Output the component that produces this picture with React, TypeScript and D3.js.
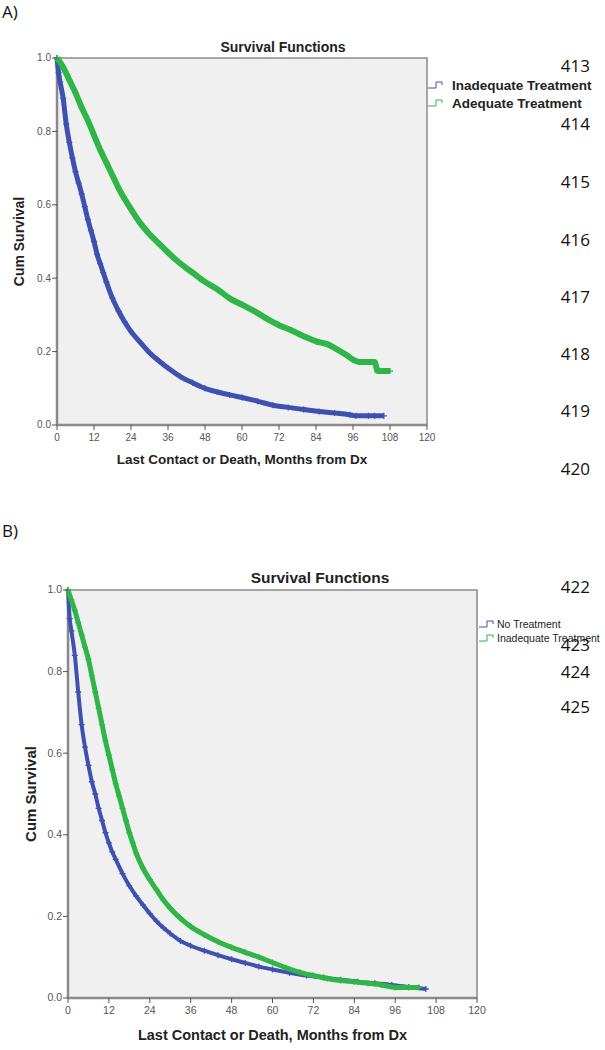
import React from "react";
import * as d3 from "d3";

// ---------- DATA ----------
const X_TICKS = [0, 12, 24, 36, 48, 60, 72, 84, 96, 108, 120];
const Y_TICKS = [0, 0.2, 0.4, 0.6, 0.8, 1.0];

// Panel A
const A_INADEQ_T = [0, 0.5, 1, 2, 3, 4, 5, 6, 7, 8, 9, 10, 11, 12, 13, 14, 15, 16, 18, 20, 22, 24, 27, 30, 33, 36, 40, 44, 48, 52, 56, 60, 65, 70, 75, 80, 85, 90, 95, 97, 101, 103, 106];
const A_INADEQ_S = [1.0, 0.96, 0.935, 0.89, 0.82, 0.77, 0.728, 0.69, 0.66, 0.63, 0.595, 0.56, 0.53, 0.5, 0.465, 0.44, 0.415, 0.39, 0.345, 0.31, 0.28, 0.255, 0.225, 0.197, 0.175, 0.155, 0.132, 0.115, 0.1, 0.09, 0.082, 0.075, 0.065, 0.054, 0.048, 0.042, 0.037, 0.033, 0.028, 0.025, 0.025, 0.025, 0.025];
const A_ADEQ_T = [0, 2, 4, 6, 8, 10, 12, 14, 16, 18, 20, 22, 24, 27, 30, 33, 36, 40, 44, 48, 52, 56, 60, 64, 68, 72, 76, 80, 84, 88, 91, 94, 96, 98, 101, 103, 104, 106, 108];
const A_ADEQ_S = [1.0, 0.975, 0.94, 0.905, 0.865, 0.83, 0.79, 0.75, 0.715, 0.68, 0.645, 0.615, 0.588, 0.55, 0.52, 0.495, 0.47, 0.44, 0.415, 0.39, 0.37, 0.345, 0.328, 0.31, 0.29, 0.272, 0.258, 0.242, 0.228, 0.219, 0.205, 0.19, 0.178, 0.172, 0.172, 0.172, 0.147, 0.147, 0.147];

// Panel B
const B_NONE_T = [0, 0.5, 1, 2, 3, 4, 5, 6, 7, 8, 9, 10, 11, 12, 13, 14, 16, 18, 20, 22, 24, 26, 28, 30, 33, 36, 40, 44, 48, 52, 56, 60, 65, 70, 75, 80, 85, 90, 95, 100, 105];
const B_NONE_S = [1.0, 0.93, 0.9, 0.84, 0.75, 0.67, 0.615, 0.57, 0.53, 0.5, 0.465, 0.435, 0.405, 0.38, 0.358, 0.34, 0.305, 0.275, 0.25, 0.228, 0.207, 0.188, 0.172, 0.158, 0.14, 0.128, 0.116, 0.105, 0.095, 0.086, 0.077, 0.07, 0.062, 0.055, 0.05, 0.045, 0.04, 0.036, 0.032, 0.027, 0.022];
const B_INADEQ_T = [0, 1, 2, 3, 4, 5, 6, 7, 8, 9, 10, 11, 12, 13, 14, 15, 16, 17, 18, 19, 20, 22, 24, 26, 28, 30, 33, 36, 40, 44, 48, 52, 56, 60, 64, 68, 72, 76, 80, 84, 88, 92, 96, 100, 103];
const B_INADEQ_S = [1.0, 0.975, 0.95, 0.92, 0.89, 0.86, 0.83, 0.79, 0.75, 0.71, 0.67, 0.63, 0.595, 0.56, 0.525, 0.495, 0.465, 0.435, 0.405, 0.38, 0.355, 0.318, 0.29, 0.265, 0.24, 0.22, 0.195, 0.175, 0.155, 0.138, 0.124, 0.112, 0.1, 0.087, 0.074, 0.063, 0.055, 0.048, 0.043, 0.04, 0.036, 0.032, 0.026, 0.026, 0.026];

const LINE_NUMS_A = ["413", "414", "415", "416", "417", "418", "419", "420"];
const LINE_NUMS_B = ["422", "423", "424", "425"];

// ---------- STYLE ----------
const BLUE = "#3f51b0";
const GREEN = "#2fb548";
const BG = "#f0f0f0";
const FRAME = "#8a8a8a";
const ARIAL = "'Liberation Sans', Arial, sans-serif";
const CALIBRI = "'Open Sans', 'Noto Sans', sans-serif";

type Series = { t: number[]; s: number[]; color: string; width: number };

function Panel(props: {
  x0: number; x1: number; y0: number; y1: number;
  series: Series[];
  titleX: number; titleY: number; titleSize: number;
  axisTitleSize: number; axisTitleDy: number;
  yTitleX: number; yTitleSize: number;
  tickSize: number;
  legend: { label: string; color: string }[];
  legendX: number; legendY: number; legendDy: number; legendSize: number; legendBold: boolean; legendTextDx: number;
}) {
  const { x0, x1, y0, y1, series } = props;
  const x = d3.scaleLinear().domain([0, 120]).range([x0, x1]);
  const y = d3.scaleLinear().domain([0, 1]).range([y1, y0]);
  const line = d3.line<[number, number]>().x((d) => x(d[0])).y((d) => y(d[1])).curve(d3.curveMonotoneX);
  return (
    <g>
      <rect x={x0} y={y0} width={x1 - x0} height={y1 - y0} fill={BG} stroke={FRAME} strokeWidth={1.5} />
      <line x1={x0} x2={x0} y1={y0} y2={y1} stroke={FRAME} strokeWidth={2.5} />
      <line x1={x0} x2={x1} y1={y1} y2={y1} stroke={FRAME} strokeWidth={2.5} />
      {series.map((sr, i) => {
        const pts: [number, number][] = sr.t.map((t, k) => [t, sr.s[k]]);
        return (
          <g key={i}>
            <path d={line(pts) || ""} fill="none" stroke={sr.color} strokeWidth={sr.width} strokeLinejoin="round" />
            {pts.map((p, k) => (
              <path key={k} d={`M${x(p[0]) - 3},${y(p[1])}h6M${x(p[0])},${y(p[1]) - 3}v6`} stroke={sr.color} strokeWidth={1.3} />
            ))}
          </g>
        );
      })}
      {Y_TICKS.map((v) => (
        <g key={v}>
          <line x1={x0 - 5} x2={x0} y1={y(v)} y2={y(v)} stroke="#555" strokeWidth={1} />
          <text x={x0 - 6} y={y(v)} dy="0.33em" textAnchor="end" fontFamily={ARIAL} fontSize={props.tickSize} fill="#555">{v.toFixed(1)}</text>
        </g>
      ))}
      {X_TICKS.map((v) => (
        <g key={v}>
          <line x1={x(v)} x2={x(v)} y1={y1} y2={y1 + 5} stroke="#555" strokeWidth={1} />
          <text x={x(v)} y={y1 + 16} textAnchor="middle" fontFamily={ARIAL} fontSize={props.tickSize} fill="#555">{v}</text>
        </g>
      ))}
      <text x={props.titleX} y={props.titleY} textAnchor="middle" fontFamily={ARIAL} fontWeight="bold" fontSize={props.titleSize} fill="#222">Survival Functions</text>
      <text x={(x0 + x1) / 2} y={y1 + props.axisTitleDy} textAnchor="middle" fontFamily={ARIAL} fontWeight="bold" fontSize={props.axisTitleSize} fill="#222">Last Contact or Death, Months from Dx</text>
      <text transform={`translate(${props.yTitleX},${(y0 + y1) / 2}) rotate(-90)`} textAnchor="middle" fontFamily={ARIAL} fontWeight="bold" fontSize={props.yTitleSize} fill="#222">Cum Survival</text>
      {props.legend.map((l, i) => {
        const ly = props.legendY + i * props.legendDy;
        const lx = props.legendX;
        return (
          <g key={i}>
            <path d={`M${lx},${ly + 3}h8v-6h6v3`} fill="none" stroke={l.color} strokeWidth={1} />
            <text x={lx + props.legendTextDx} y={ly} dy="0.35em" fontFamily={ARIAL} fontWeight={props.legendBold ? "bold" : "normal"} fontSize={props.legendSize} fill="#222">{l.label}</text>
          </g>
        );
      })}
    </g>
  );
}

export default function App() {
  const lineYsA = [66, 124, 182, 240, 297, 354, 411, 469];
  const lineYsB = [587, 645, 672, 707];
  return (
    <svg width={605} height={1050} style={{ position: "absolute", left: 0, top: 0, background: "#fff" }}>
      <text x={2} y={18} fontFamily={CALIBRI} fontSize={17} fill="#111">A)</text>
      <text x={2} y={537} fontFamily={CALIBRI} fontSize={17} fill="#111">B)</text>
      {LINE_NUMS_A.map((n, i) => (
        <text key={n} x={590} y={lineYsA[i]} dy="0.35em" textAnchor="end" fontFamily={CALIBRI} fontSize={17} fill="#111">{n}</text>
      ))}
      {LINE_NUMS_B.map((n, i) => (
        <text key={n} x={590} y={lineYsB[i]} dy="0.35em" textAnchor="end" fontFamily={CALIBRI} fontSize={17} fill="#111">{n}</text>
      ))}
      <Panel
        x0={57} x1={427} y0={58} y1={425}
        series={[
          { t: A_INADEQ_T, s: A_INADEQ_S, color: BLUE, width: 5 },
          { t: A_ADEQ_T, s: A_ADEQ_S, color: GREEN, width: 6 },
        ]}
        titleX={283} titleY={52} titleSize={14}
        axisTitleSize={13.5} axisTitleDy={39}
        yTitleX={24} yTitleSize={14}
        tickSize={10}
        legend={[{ label: "Inadequate Treatment", color: BLUE }, { label: "Adequate Treatment", color: GREEN }]}
        legendX={428} legendY={85} legendDy={18} legendSize={13.5} legendBold={true} legendTextDx={24}
      />
      <Panel
        x0={68} x1={477} y0={590} y1={998}
        series={[
          { t: B_NONE_T, s: B_NONE_S, color: BLUE, width: 4 },
          { t: B_INADEQ_T, s: B_INADEQ_S, color: GREEN, width: 5 },
        ]}
        titleX={320} titleY={583} titleSize={15.5}
        axisTitleSize={14.5} axisTitleDy={42}
        yTitleX={36} yTitleSize={15}
        tickSize={10.5}
        legend={[{ label: "No Treatment", color: BLUE }, { label: "Inadequate Treatment", color: GREEN }]}
        legendX={479} legendY={624} legendDy={14} legendSize={10.5} legendBold={false} legendTextDx={18}
      />
    </svg>
  );
}
